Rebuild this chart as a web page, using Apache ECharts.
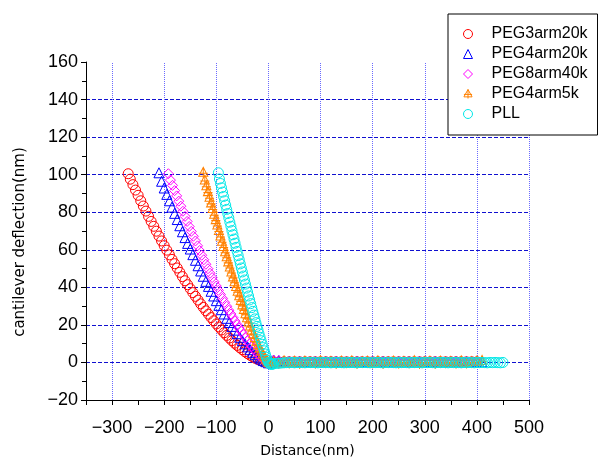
<!DOCTYPE html>
<html>
<head>
<meta charset="utf-8">
<script src="https://cdn.jsdelivr.net/npm/echarts@6/dist/echarts.min.js"></script>
<style>
html,body{margin:0;padding:0;background:#fff;}
#chart{width:598px;height:460px;}
</style>
</head>
<body>
<div id="chart"></div>
<script>
// ---- data ----
const seriesNames = ['PEG3arm20k', 'PEG4arm20k', 'PEG8arm40k', 'PEG4arm5k', 'PLL'];

const peg3arm20kX = [-269,-265,-260,-255,-250,-245,-240,-235,-230,-225,-220,-215,-210,-205,-200,-195,-190,-185,-180,-175,-170,-165,-160,-155,-150,-145,-140,-135,-130,-125,-120,-115,-110,-105,-100,-95,-90,-85,-80,-75,-70,-65,-60,-55,-50,-45,-40,-35,-30,-25,-20,-15,-10,-5,0,
  5,10,20,30,40,50,60,70,80,90,100,110,120,130,140,150,160,170,180,190,200,210,220,230,240,250,260,270,280,290,300,310,320,330,340,350,360,370,380,390,400];
const peg3arm20kY = [100.5,97.6,94.7,91.8,89.0,86.1,83.3,80.6,77.8,75.1,72.5,69.9,67.3,64.7,62.2,59.8,57.3,54.9,52.6,50.3,48.0,45.7,43.5,41.4,39.3,37.2,35.2,33.2,31.2,29.3,27.5,25.7,23.9,22.2,20.5,18.9,17.3,15.8,14.4,13.0,11.6,10.3,9.1,7.9,6.8,5.7,4.7,3.8,3.0,2.2,1.6,1.0,0.5,0.2,-0.3,
  -0.6,0.0,0.2,0.3,0.3,0.3,0.3,0.3,0.3,0.3,0.3,0.3,0.3,0.3,0.3,0.3,0.3,0.3,0.3,0.3,0.3,0.3,0.3,0.3,0.3,0.3,0.3,0.3,0.3,0.3,0.3,0.3,0.3,0.3,0.3,0.3,0.3,0.3,0.3,0.3,0.3];

const peg4arm20kX = [-210,-205,-200,-195,-190,-185,-180,-175,-170,-165,-160,-155,-150,-145,-140,-135,-130,-125,-120,-115,-110,-105,-100,-95,-90,-85,-80,-75,-70,-65,-60,-55,-50,-45,-40,-35,-30,-25,-20,-15,-10,-5,0,
  5,10,20,30,40,50,60,70,80,90,100,110,120,130,140,150,160,170,180,190,200,210,220,230,240,250,260,270,280,290,300,310,320,330,340,350,360,370,380,390,400,410];
const peg4arm20kY = [101,96.5,92.9,89.5,86.1,82.7,79.4,76.1,72.8,69.6,66.5,63.4,60.4,57.4,54.4,51.5,48.7,45.9,43.2,40.5,37.9,35.4,32.9,30.4,28.1,25.8,23.5,21.3,19.2,17.2,15.3,13.4,11.6,9.9,8.3,6.8,5.4,4.1,2.9,1.9,1.0,0.4,-0.2,
  0.6,1.3,1.0,0.6,0.4,0.4,0.4,0.4,0.4,0.4,0.4,0.4,0.4,0.4,0.4,0.4,0.4,0.4,0.4,0.4,0.4,0.4,0.4,0.4,0.4,0.4,0.4,0.4,0.4,0.4,0.4,0.4,0.4,0.4,0.4,0.4,0.4,0.4,0.4,0.4,0.4,0.4];

const peg8arm40kX = [-192,-188,-184,-180,-176,-172,-168,-164,-160,-156,-152,-148,-144,-140,-136,-132,-128,-124,-120,-116,-112,-108,-104,-100,-96,-92,-88,-84,-80,-76,-72,-68,-64,-60,-56,-52,-48,-44,-40,-36,-32,-28,-24,-20,-16,-12,-8,-4,0,
  4,10,20,30,40,50,60,70,80,90,100,110,120,130,140,150,160,170,180,190,200,210,220,230,240,250,260,270,280,290,300,310,320,330,340,350,360,370,380,390,400];
const peg8arm40kY = [100.5,97.1,94.3,91.5,88.7,85.9,83.2,80.5,77.8,75.1,72.4,69.8,67.2,64.7,62.1,59.6,57.1,54.7,52.3,49.9,47.5,45.2,42.9,40.7,38.4,36.2,34.1,32.0,29.9,27.8,25.8,23.9,22.0,20.1,18.3,16.5,14.8,13.1,11.5,9.9,8.4,7.0,5.7,4.4,3.2,2.2,1.2,0.5,-0.1,
  0.6,1.2,0.9,0.5,0.3,0.3,0.3,0.3,0.3,0.3,0.3,0.3,0.3,0.3,0.3,0.3,0.3,0.3,0.3,0.3,0.3,0.3,0.3,0.3,0.3,0.3,0.3,0.3,0.3,0.3,0.3,0.3,0.3,0.3,0.3,0.3,0.3,0.3,0.3,0.3,0.3];

const peg4arm5kX = [-125,-122,-119,-116,-113,-110,-107,-104,-101,-98,-95,-92,-89,-86,-83,-80,-77,-74,-71,-68,-65,-62,-59,-56,-53,-50,-47,-44,-41,-38,-35,-32,-29,-26,-23,-20,-17,-14,-11,-8,-5,-2,0,
  3,10,20,30,40,50,60,70,80,90,100,110,120,130,140,150,160,170,180,190,200,210,220,230,240,250,260,270,280,290,300,310,320,330,340,350,360,370,380,390,400,410];
const peg4arm5kY = [101,96.9,93.8,90.7,87.7,84.7,81.7,78.7,75.8,72.9,70.0,67.1,64.3,61.5,58.7,56.0,53.3,50.6,47.9,45.3,42.7,40.2,37.7,35.2,32.8,30.4,28.0,25.7,23.5,21.3,19.1,17.0,15.0,13.0,11.1,9.2,7.5,5.8,4.2,2.8,1.5,0.5,-0.3,
  -0.6,0.2,-0.5,0.6,-0.3,0.4,-0.6,0.5,0.1,-0.4,0.7,-0.2,0.3,-0.6,0.5,-0.1,0.6,-0.5,0.2,0.4,-0.3,0.6,-0.6,0.1,0.5,-0.4,0.3,-0.2,0.7,-0.5,0.2,0.4,-0.6,0.5,-0.1,0.3,-0.4,0.6,-0.3,0.2,0.5,0.8];

const pllX = [-96,-94,-92,-90,-88,-86,-84,-82,-80,-78,-76,-74,-72,-70,-68,-66,-64,-62,-60,-58,-56,-54,-52,-50,-48,-46,-44,-42,-40,-38,-36,-34,-32,-30,-28,-26,-24,-22,-20,-18,-16,-14,-12,-10,-8,-6,-4,-2,0,2,4,6,8,
  10,15,20,25,30,35,40,45,50,55,60,65,70,75,80,85,90,95,100,105,110,115,120,125,130,135,140,145,150,155,160,165,170,175,180,185,190,195,200,205,210,215,220,225,230,235,240,245,250,255,260,265,270,275,280,285,290,295,300,305,310,315,320,325,330,335,340,345,350,355,360,365,370,375,380,385,390,395,400,405,410,415,420,425,430,435,440,445,450];
const pllY = [101,97.7,95.3,93.0,90.7,88.4,86.1,83.8,81.5,79.3,77.0,74.7,72.5,70.2,68.0,65.7,63.5,61.3,59.1,56.9,54.7,52.5,50.3,48.2,46.0,43.9,41.7,39.6,37.5,35.4,33.3,31.3,29.2,27.2,25.2,23.2,21.2,19.2,17.3,15.3,13.4,11.6,9.7,7.9,6.2,4.5,2.8,1.3,0.1,-0.6,-0.9,-1.0,-0.9,
  -0.7,-0.5,-0.4,-0.3,-0.2,-0.1,-0.1,0,-0.2,-0.1,0,-0.1,-0.2,0,-0.1,0,-0.1,-0.2,0,-0.1,0,-0.1,-0.2,0,-0.1,0,-0.1,-0.2,0,-0.1,0,-0.1,-0.2,0,-0.1,0,-0.1,-0.2,0,-0.1,0,-0.1,-0.2,0,-0.1,0,-0.1,-0.2,0,-0.1,0,-0.1,-0.2,0,-0.1,0,-0.1,-0.2,0,-0.1,0,-0.1,-0.2,0,-0.1,0,-0.1,-0.2,0,-0.1,0,-0.1,-0.2,0,-0.1,0,-0.1,-0.2,0,-0.1,0,-0.1,-0.2,0,-0.1,0,-0.1,-0.2,0,-0.1];

const xTickLabels = [-300,-200,-100,0,100,200,300,400,500];
const yTickLabels = [-20,0,20,40,60,80,100,120,140,160];

// ---- chart ----
function zip(xs, ys) {
  const n = Math.min(xs.length, ys.length);
  const out = [];
  for (let i = 0; i < n; i++) out.push([xs[i], ys[i]]);
  return out;
}
const minus = v => String(v).replace('-', '\u2212');

const colors = ['#ff0000', '#0000ff', '#ff00ff', '#ff8000', '#00e8e8'];
const symbols = [
  'circle',
  'triangle',
  'diamond',
  'path://M5,0 L10,9 L0,9 Z M5,0 L5,11 M0,6 L10,6',
  'circle'
];
const datasets = [
  zip(peg3arm20kX, peg3arm20kY),
  zip(peg4arm20kX, peg4arm20kY),
  zip(peg8arm40kX, peg8arm40kY),
  zip(peg4arm5kX, peg4arm5kY),
  zip(pllX, pllY)
];

const series = seriesNames.map((name, i) => ({
  name: name,
  type: 'scatter',
  data: datasets[i],
  symbol: symbols[i],
  symbolSize: i === 3 ? [10, 11] : 10,
  symbolKeepAspect: true,
  z: 3,
  itemStyle: { color: 'rgba(0,0,0,0)', borderColor: colors[i], borderWidth: 1, opacity: 1 },
  emphasis: { disabled: true },
  animation: false
}));

series.unshift({
  name: 'xgrid',
  type: 'scatter',
  data: [],
  z: 1,
  silent: true,
  animation: false,
  markLine: {
    silent: true,
    z: 1,
    symbol: ['none', 'none'],
    label: { show: false },
    lineStyle: { type: [1, 1], color: '#6a6aff', width: 1 },
    emphasis: { disabled: true },
    animation: false,
    data: xTickLabels.map(v => ({ xAxis: v }))
  }
});

const chart = echarts.init(document.getElementById('chart'), null, { renderer: 'canvas' });
chart.setOption({
  animation: false,
  backgroundColor: '#ffffff',
  grid: { left: 86, right: 69, top: 62, bottom: 60, containLabel: false, outerBoundsMode: 'none' },
  legend: {
    orient: 'vertical',
    left: 448,
    top: 14,
    padding: [12, 10, 13, 15],
    itemWidth: 9,
    itemHeight: 9,
    itemGap: 4,
    symbolKeepAspect: true,
    backgroundColor: '#ffffff',
    borderColor: '#000000',
    borderWidth: 1,
    borderRadius: 0,
    selectedMode: false,
    itemStyle: { borderWidth: 1 },
    textStyle: { fontSize: 16, lineHeight: 16, color: '#000', fontFamily: 'Liberation Sans, Arial, sans-serif', padding: [0, 0, 0, 14] },
    data: seriesNames
  },
  xAxis: {
    type: 'value',
    min: -350,
    max: 500,
    interval: 50,
    name: 'Distance(nm)',
    nameLocation: 'middle',
    nameGap: 44,
    nameTextStyle: { fontSize: 14, color: '#000', fontFamily: 'DejaVu Sans, sans-serif' },
    axisLine: { show: true, onZero: false, lineStyle: { color: '#000', width: 1 } },
    axisTick: { show: true, inside: false, length: 5, lineStyle: { color: '#000' } },
    axisLabel: {
      margin: 19,
      fontSize: 18,
      color: '#000',
      fontFamily: 'Liberation Sans, Arial, sans-serif',
      formatter: v => (xTickLabels.indexOf(v) >= 0 ? minus(v) : '')
    },
    splitLine: { show: false }
  },
  yAxis: {
    type: 'value',
    min: -20,
    max: 160,
    interval: 20,
    name: 'cantilever deflection(nm)',
    nameLocation: 'middle',
    nameGap: 58,
    nameTextStyle: { fontSize: 15, color: '#000', fontFamily: 'DejaVu Sans, sans-serif', padding: [0, 22, 0, 0] },
    axisLine: { show: true, onZero: false, lineStyle: { color: '#000', width: 1 } },
    axisTick: { show: true, inside: false, length: 5, lineStyle: { color: '#000' } },
    minorTick: { show: true, splitNumber: 2, length: 4, lineStyle: { color: '#000' } },
    axisLabel: {
      margin: 8,
      fontSize: 18,
      color: '#000',
      fontFamily: 'Liberation Sans, Arial, sans-serif',
      formatter: v => (yTickLabels.indexOf(v) >= 0 ? minus(v) : '')
    },
    splitLine: { show: true, showMinLine: false, showMaxLine: false, lineStyle: { type: [4, 2], color: '#1010d0', width: 1 } }
  },
  series: series
});
</script>
</body>
</html>
